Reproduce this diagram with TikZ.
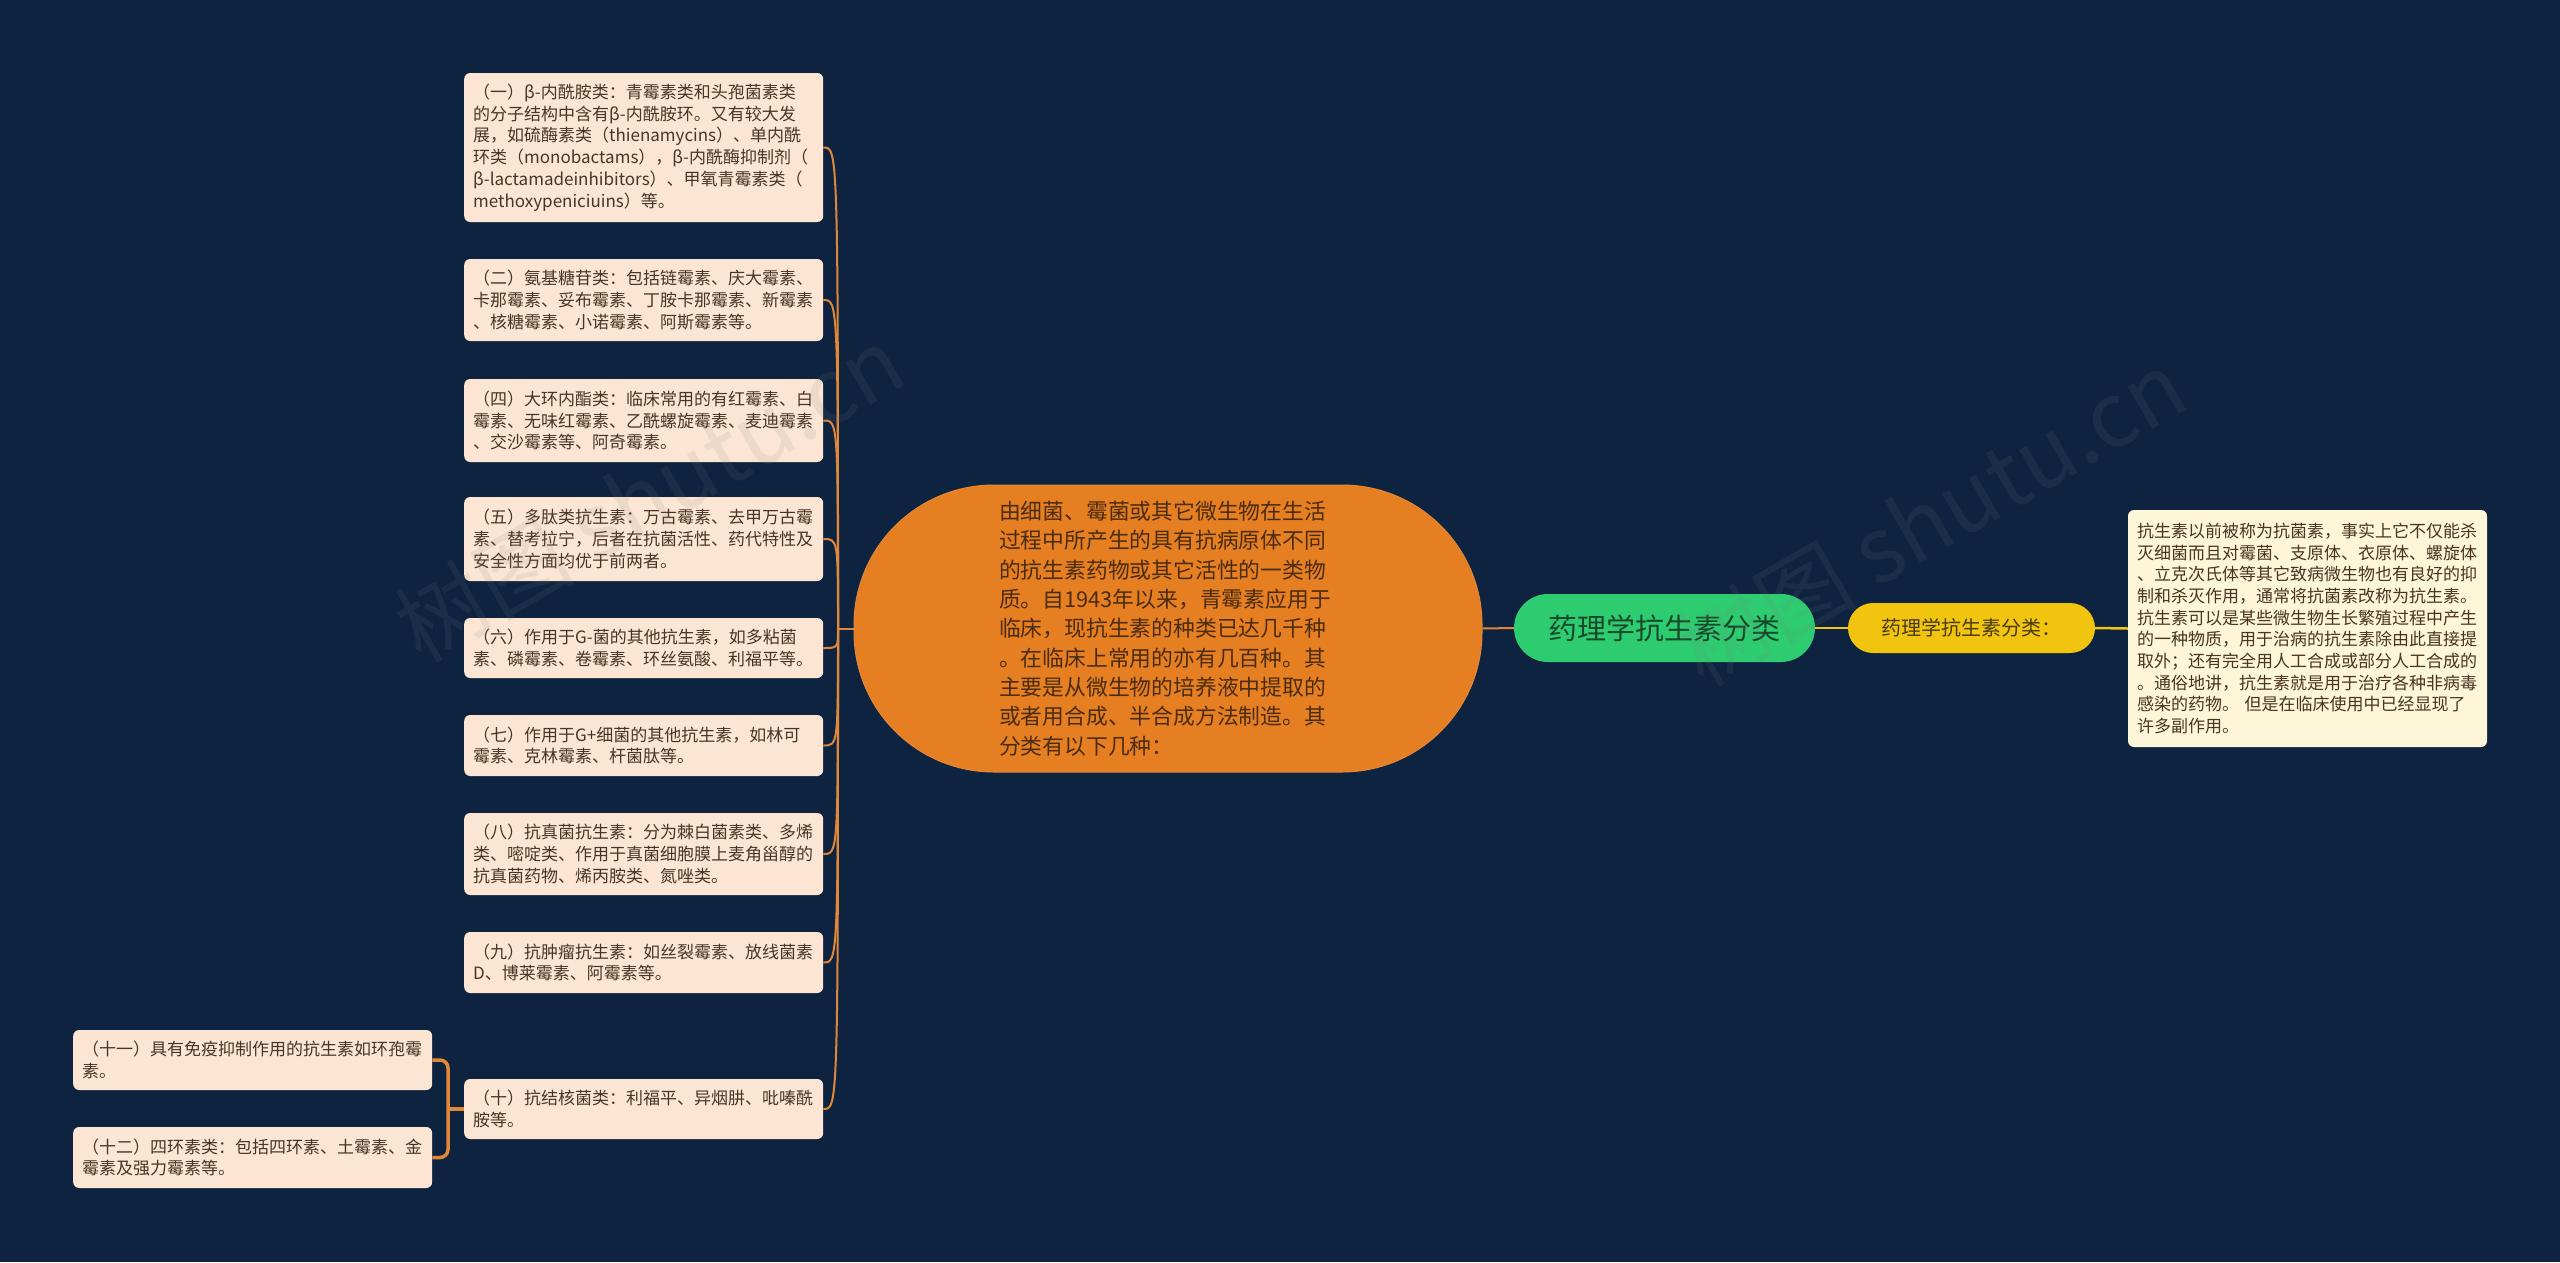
\documentclass[tikz,border=0pt]{standalone}
\usepackage{fontspec}
\setmainfont{Noto Sans CJK SC}
\exhyphenpenalty=10000
\hyphenpenalty=10000
\definecolor{bg}{HTML}{0E2340}
\definecolor{peach}{HTML}{FCE6D3}
\definecolor{boxtext}{HTML}{4A3423}
\definecolor{orangenode}{HTML}{E67E22}
\definecolor{orangeline}{HTML}{E0883A}
\definecolor{centertext}{HTML}{4A2C0E}
\definecolor{greennode}{HTML}{2ECC71}
\definecolor{greentext}{HTML}{174A2A}
\definecolor{yellownode}{HTML}{F1C40F}
\definecolor{yellowtext}{HTML}{4A3A05}
\definecolor{cream}{HTML}{FDF6D8}
\begin{document}
\begin{tikzpicture}[x=1pt,y=-1pt,
  leaf/.style={fill=peach, text=boxtext, rounded corners=6pt, inner xsep=9pt, inner ysep=0pt,
    text width=341pt, align=left, font=\fontsize{17}{21.7}\selectfont, anchor=west},
  link/.style={draw=orangeline, line width=2pt},
  bracketline/.style={draw=orangeline, line width=3.5pt, rounded corners=8pt},
  ylink/.style={draw=yellownode, line width=2.5pt},
  centernode/.style={fill=orangenode, draw=orangeline, line width=1pt, text=centertext, rounded corners=140pt,
    minimum width=628pt, minimum height=287pt, inner sep=0pt, text width=338pt, align=left,
    font=\fontsize{21.8}{29.3}\selectfont},
  greenbox/.style={fill=greennode, text=greentext, rounded corners=34pt, minimum width=301pt,
    minimum height=68pt, inner sep=0pt, font=\fontsize{29}{34}\selectfont},
  yellowbox/.style={fill=yellownode, text=yellowtext, rounded corners=25pt, minimum width=247pt,
    minimum height=50pt, inner sep=0pt, font=\fontsize{20}{24}\selectfont},
  notebox/.style={fill=cream, text=boxtext, rounded corners=6pt, inner xsep=9pt, inner ysep=0pt,
    text width=341pt, minimum height=237pt, align=left, font=\fontsize{17}{21.7}\selectfont},
  watermark/.style={text=gray, opacity=0.12, font=\fontsize{90}{100}\selectfont, rotate=30}
]
\fill[bg] (0,0) rectangle (2560,1262);
\useasboundingbox (0,0) rectangle (2560,1262);

% centre
\node[centernode] (c) at (1168,628.5) {由细菌、霉菌或其它微生物在生活\\过程中所产生的具有抗病原体不同\\的抗生素药物或其它活性的一类物\\质。自1943年以来，青霉素应用于\\临床，现抗生素的种类已达几千种\\。在临床上常用的亦有几百种。其\\主要是从微生物的培养液中提取的\\或者用合成、半合成方法制造。其\\分类有以下几种：};

\node[greenbox] (g) at (1664.5,628) {药理学抗生素分类};
\node[yellowbox] (y) at (1971.5,628) {药理学抗生素分类：};
\node[notebox] (n) at (2307.5,628.5) {抗生素以前被称为抗菌素，事实上它不仅能杀\\灭细菌而且对霉菌、支原体、衣原体、螺旋体\\、立克次氏体等其它致病微生物也有良好的抑\\制和杀灭作用，通常将抗菌素改称为抗生素。\\抗生素可以是某些微生物生长繁殖过程中产生\\的一种物质，用于治病的抗生素除由此直接提\\取外；还有完全用人工合成或部分人工合成的\\。通俗地讲，抗生素就是用于治疗各种非病毒\\感染的药物。 但是在临床使用中已经显现了\\许多副作用。};

% left leaves
\node[leaf, minimum height=149pt] (b1) at (464,147.5) {（一）β-内酰胺类：青霉素类和头孢菌素类\\的分子结构中含有β-内酰胺环。又有较大发\\展，如硫酶素类（thienamycins）、单内酰\\环类（monobactams），β-内酰酶抑制剂（\\β-lactamadeinhibitors）、甲氧青霉素类（\\methoxypeniciuins）等。};
\node[leaf, minimum height=82pt] (b2) at (464,300) {（二）氨基糖苷类：包括链霉素、庆大霉素、\\卡那霉素、妥布霉素、丁胺卡那霉素、新霉素\\、核糖霉素、小诺霉素、阿斯霉素等。};
\node[leaf, minimum height=83pt] (b4) at (464,420.5) {（四）大环内酯类：临床常用的有红霉素、白\\霉素、无味红霉素、乙酰螺旋霉素、麦迪霉素\\、交沙霉素等、阿奇霉素。};
\node[leaf, minimum height=84pt] (b5) at (464,539) {（五）多肽类抗生素：万古霉素、去甲万古霉\\素、替考拉宁，后者在抗菌活性、药代特性及\\安全性方面均优于前两者。};
\node[leaf, minimum height=60pt] (b6) at (464,648) {（六）作用于G-菌的其他抗生素，如多粘菌\\素、磷霉素、卷霉素、环丝氨酸、利福平等。};
\node[leaf, minimum height=61pt] (b7) at (464,745.5) {（七）作用于G+细菌的其他抗生素，如林可\\霉素、克林霉素、杆菌肽等。};
\node[leaf, minimum height=82pt] (b8) at (464,854) {（八）抗真菌抗生素：分为棘白菌素类、多烯\\类、嘧啶类、作用于真菌细胞膜上麦角甾醇的\\抗真菌药物、烯丙胺类、氮唑类。};
\node[leaf, minimum height=61pt] (b9) at (464,962.5) {（九）抗肿瘤抗生素：如丝裂霉素、放线菌素\\D、博莱霉素、阿霉素等。};
\node[leaf, minimum height=60pt] (b10) at (464,1109) {（十）抗结核菌类：利福平、异烟肼、吡嗪酰\\胺等。};
\node[leaf, minimum height=60pt] (b11) at (73,1060) {（十一）具有免疫抑制作用的抗生素如环孢霉\\素。};
\node[leaf, minimum height=61pt] (b12) at (73,1157.5) {（十二）四环素类：包括四环素、土霉素、金\\霉素及强力霉素等。};

% connectors
\coordinate (hub) at (838,628.5);
\coordinate (j10) at (448,1109);
\draw[link] (c.west) -- (hub);
\foreach \b in {b1,b2,b4,b5,b6,b7,b8,b9,b10}{
  \draw[link] (hub) .. controls (hub |- \b.east) and (hub |- \b.east) .. (\b.east);
}
\draw[bracketline] (b11.east) -- (b11.east -| j10) -- (b12.east -| j10) -- (b12.east);
\draw[bracketline] (b10.west) -- (j10);
\draw[link] (c.east) -- (g.west);
\draw[ylink] (g.east) -- (y.west);
\draw[ylink] (y.east) -- (n.west);

% watermark
\node[watermark] (w1) at (649,494) {树图 shutu.cn};
\node[watermark] (w2) at (1931,518) {树图 shutu.cn};
\end{tikzpicture}
\end{document}
